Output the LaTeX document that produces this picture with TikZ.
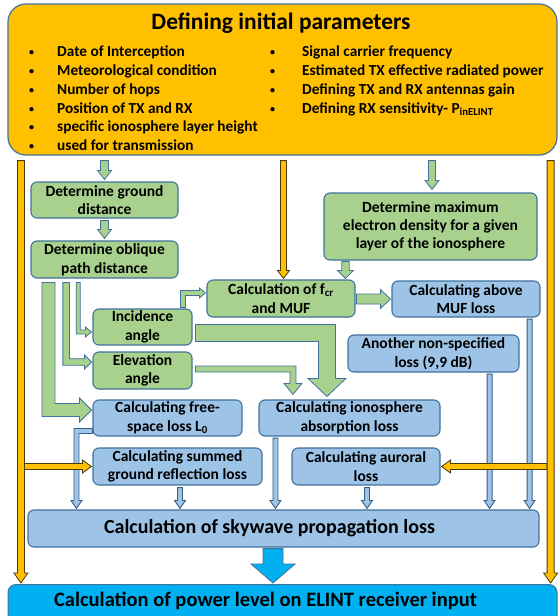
\documentclass[tikz,border=0pt]{standalone}
\usepackage{fontspec}
\setmainfont{Carlito}
\usetikzlibrary{calc}
\definecolor{orF}{HTML}{FFC000}
\definecolor{grF}{HTML}{A9D18E}
\definecolor{blF}{HTML}{9DC3E6}
\definecolor{cyF}{HTML}{00B0F0}
\definecolor{bordC}{HTML}{41719C}
\definecolor{orB}{HTML}{4A3A10}
\newcommand{\fsz}[2]{\fontsize{#1}{#2}\selectfont}
\newcommand{\bul}[1]{\makebox[#1][l]{\raisebox{1pt}{\fsz{10}{10}•}}}
\tikzset{
 box/.style={rectangle, rounded corners=6pt, draw=bordC, line width=1.1pt, align=center, inner sep=0pt, font=\bfseries\fsz{15.5}{18.7}},
 gbox/.style={box, fill=grF},
 bbox/.style={box, fill=blF},
 garr/.style={fill=grF, draw=bordC, line width=0.8pt},
 barr/.style={fill=blF, draw=bordC!85!black, line width=0.9pt},
 oarr/.style={fill=orF, draw=orB, line width=0.8pt},
 carr/.style={fill=cyF, draw=bordC, line width=0.8pt},
}
% vertical down: style, start, tip, half shaft, half head, head length
\newcommand{\ArrD}[6]{\path[#1] let \p1=(#2), \p2=(#3) in (\x2-#4,\y1) -- (\x2+#4,\y1) -- (\x2+#4,\y2+#6) -- (\x2+#5,\y2+#6) -- (\x2,\y2) -- (\x2-#5,\y2+#6) -- (\x2-#4,\y2+#6) -- cycle;}
\newcommand{\ArrR}[6]{\path[#1] let \p1=(#2), \p2=(#3) in (\x1,\y2+#4) -- (\x2-#6,\y2+#4) -- (\x2-#6,\y2+#5) -- (\x2,\y2) -- (\x2-#6,\y2-#5) -- (\x2-#6,\y2-#4) -- (\x1,\y2-#4) -- cycle;}
\newcommand{\ArrL}[6]{\path[#1] let \p1=(#2), \p2=(#3) in (\x1,\y2+#4) -- (\x2+#6,\y2+#4) -- (\x2+#6,\y2+#5) -- (\x2,\y2) -- (\x2+#6,\y2-#5) -- (\x2+#6,\y2-#4) -- (\x1,\y2-#4) -- cycle;}
\newcommand{\ArrDR}[6]{\path[#1] let \p1=(#2), \p2=(#3) in (\x1-#4,\y1) -- (\x1+#4,\y1) -- (\x1+#4,\y2+#4) -- (\x2-#6,\y2+#4) -- (\x2-#6,\y2+#5) -- (\x2,\y2) -- (\x2-#6,\y2-#5) -- (\x2-#6,\y2-#4) -- (\x1-#4,\y2-#4) -- cycle;}
\newcommand{\ArrRD}[6]{\path[#1] let \p1=(#2), \p2=(#3) in (\x1,\y1+#4) -- (\x2+#4,\y1+#4) -- (\x2+#4,\y2+#6) -- (\x2+#5,\y2+#6) -- (\x2,\y2) -- (\x2-#5,\y2+#6) -- (\x2-#4,\y2+#6) -- (\x2-#4,\y1-#4) -- (\x1,\y1-#4) -- cycle;}
\newcommand{\ArrUR}[6]{\path[#1] let \p1=(#2), \p2=(#3) in (\x1-#4,\y1) -- (\x1-#4,\y2+#4) -- (\x2-#6,\y2+#4) -- (\x2-#6,\y2+#5) -- (\x2,\y2) -- (\x2-#6,\y2-#5) -- (\x2-#6,\y2-#4) -- (\x1+#4,\y2-#4) -- (\x1+#4,\y1) -- cycle;}
\newcommand{\ArrLD}[6]{\path[#1] let \p1=(#2), \p2=(#3) in (\x1,\y1+#4) -- (\x2-#4,\y1+#4) -- (\x2-#4,\y2+#6) -- (\x2-#5,\y2+#6) -- (\x2,\y2) -- (\x2+#5,\y2+#6) -- (\x2+#4,\y2+#6) -- (\x2+#4,\y1-#4) -- (\x1,\y1-#4) -- cycle;}
\begin{document}
\begin{tikzpicture}[x=1pt,y=-1pt]
\useasboundingbox (0,0) rectangle (558,616);
\fill[white] (0,0) rectangle (558,616);
% top box
\node[rectangle, rounded corners=18pt, draw=bordC, line width=1.2pt, fill=orF, minimum width=549pt, minimum height=151pt, inner sep=0pt] (top) at (282.5,79.5) {};
\node[font=\bfseries\fsz{23.5}{26}, inner sep=0pt] (title) at (281,23) {Defining initial parameters};
\node[anchor=north west, inner sep=0pt, align=left, font=\bfseries\fsz{15.3}{18.7}] (lista) at (29,46) {%
\bul{28pt}Date of Interception\\
\bul{28pt}Meteorological condition\\
\bul{28pt}Number of hops\\
\bul{28pt}Position of TX and RX\\
\bul{28pt}specific ionosphere layer height\\
\bul{28pt}used for transmission};
\node[anchor=north west, inner sep=0pt, align=left, font=\bfseries\fsz{15.3}{18.7}] (listb) at (270,46) {%
\bul{32pt}Signal carrier frequency\\
\bul{32pt}Estimated TX effective radiated power\\
\bul{32pt}Defining TX and RX antennas gain\\
\bul{32pt}Defining RX sensitivity- P\textsubscript{inELINT}};
% boxes
\node[gbox, minimum width=147pt, minimum height=36pt] (gd) at (104.5,200) {Determine ground\\distance};
\node[gbox, minimum width=147pt, minimum height=37pt] (od) at (104.5,259.5) {Determine oblique\\path distance};
\node[gbox, minimum width=213pt, minimum height=67pt, font=\bfseries\fsz{15.5}{17.8}] (me) at (430.5,226.5) {Determine maximum\\electron density for a given\\layer of the ionosphere};
\node[gbox, minimum width=148pt, minimum height=37pt] (fcr) at (281,298.5) {Calculation of f\textsubscript{cr}\\and MUF};
\node[bbox, minimum width=148pt, minimum height=36pt] (amuf) at (466,299) {Calculating above\\MUF loss};
\node[gbox, minimum width=99pt, minimum height=36pt] (inc) at (142.5,327) {Incidence\\angle};
\node[gbox, minimum width=99pt, minimum height=37pt] (elev) at (142.5,370.5) {Elevation\\angle};
\node[bbox, minimum width=171pt, minimum height=37pt] (other) at (433.5,353.5) {Another non-specified\\loss (9,9 dB)};
\node[bbox, minimum width=149pt, minimum height=36pt] (fs) at (167.5,418) {Calculating free-\\space loss L\textsubscript{0}};
\node[bbox, minimum width=181pt, minimum height=36pt] (iono) at (349.5,418) {Calculating ionosphere\\absorption loss};
\node[bbox, minimum width=169pt, minimum height=37pt] (sgr) at (177.5,466.5) {Calculating summed\\ground reflection loss};
\node[bbox, minimum width=148pt, minimum height=37pt] (aur) at (366,466.5) {Calculating auroral\\loss};
\node[bbox, minimum width=511pt, minimum height=37pt, font=\bfseries\fsz{20}{22}] (sky) at (283.5,528.5) {Calculation of skywave propagation loss\hspace*{28pt}};
\node[rectangle, rounded corners=8pt, draw=bordC, line width=1pt, fill=cyF, minimum width=549pt, anchor=north, inner sep=0pt, text height=22pt, text depth=20pt, font=\bfseries\fsz{20.5}{22}] (final) at (282.5,584) {Calculation of power level on ELINT receiver input\hspace*{34pt}};
% green connectors
\ArrD{garr}{$(gd.north |- top.south)+(0,5)$}{$(gd.north)+(0,-2)$}{4pt}{7pt}{9pt}
\ArrD{garr}{$(gd.south)+(0,2)$}{$(od.north)+(0,-2)$}{4pt}{7pt}{9pt}
\ArrD{garr}{$(me.north |- top.south)+(1.5,5)$}{$(me.north)+(1.5,-3)$}{3.5pt}{7pt}{9pt}
\coordinate (m1) at ($(me.south west)+(22,1)$);
\ArrD{garr}{m1}{$(m1 |- fcr.north)+(0,-1)$}{3.7pt}{8pt}{8pt}
\ArrR{garr}{$(fcr.east)+(1,0)$}{$(amuf.west)+(-1,0)$}{5pt}{9.5pt}{10pt}
\ArrDR{garr}{$(od.south west)+(47.7,4)$}{$(inc.west)+(-1,5)$}{2pt}{5pt}{6pt}
\ArrDR{garr}{$(od.south west)+(35.7,4)$}{$(elev.west)+(-1,-8.5)$}{3.3pt}{7pt}{7pt}
\ArrDR{garr}{$(od.south west)+(18,4)$}{$(fs.west)+(-1,-8)$}{6.5pt}{12pt}{12pt}
\ArrUR{garr}{$(inc.north east)+(-9.5,-1)$}{$(fcr.west)+(-1,-5.5)$}{2.5pt}{5pt}{6pt}
\ArrRD{garr}{$(inc.east)+(3,6)$}{$(iono.north west)+(68.5,-3)$}{8.5pt}{19pt}{18pt}
\ArrRD{garr}{$(elev.east)+(3,-1.5)$}{$(iono.north west)+(34.5,-5)$}{3pt}{9pt}{11pt}
% blue connectors
\ArrLD{barr}{$(fs.west)+(0,13)$}{$(fs.west |- sky.north)+(-16,-1)$}{2.5pt}{5.5pt}{8pt}
\ArrD{barr}{$(sgr.south)+(2.5,2)$}{$(sgr.south |- sky.north)+(2.5,-1)$}{2.5pt}{5.5pt}{8pt}
\coordinate (a1) at ($(iono.south west)+(17,1.5)$);
\ArrD{barr}{a1}{$(a1 |- sky.north)+(0,-1)$}{2.5pt}{5.5pt}{8pt}
\ArrD{barr}{$(aur.south)+(1,2)$}{$(aur.south |- sky.north)+(1,-1)$}{2.5pt}{5.5pt}{8pt}
\coordinate (a2) at ($(other.south east)+(-30,1.5)$);
\ArrD{barr}{a2}{$(a2 |- sky.north)+(0,-1)$}{2.5pt}{5.5pt}{8pt}
\coordinate (a3) at ($(amuf.south east)+(-11,1.5)$);
\ArrD{barr}{a3}{$(a3 |- sky.north)+(0,-1)$}{2.5pt}{5.5pt}{8pt}
\ArrD{carr}{$(sky.south)+(-10.5,1)$}{$(sky.south |- final.north)+(-10.5,-1)$}{10pt}{22pt}{19pt}
% orange connectors
\ArrR{oarr}{$(top.south west)+(16.5,0)$}{$(sgr.west)+(-1,0)$}{3pt}{6.5pt}{9pt}
\ArrL{oarr}{$(top.south east)+(-10.5,0)$}{$(aur.east)+(1,0)$}{3pt}{6.5pt}{9pt}
\ArrD{oarr}{$(top.south west)+(13.5,5)$}{$(top.south west |- final.north)+(13.5,-1)$}{3.5pt}{7pt}{10pt}
\ArrD{oarr}{$(top.south east)+(-7,5)$}{$(top.south east |- final.north)+(-7,-1)$}{3.5pt}{7pt}{10pt}
\ArrD{oarr}{$(fcr.north |- top.south)+(2.5,5)$}{$(fcr.north)+(2.5,-1)$}{3pt}{6pt}{8pt}
\end{tikzpicture}
\end{document}
